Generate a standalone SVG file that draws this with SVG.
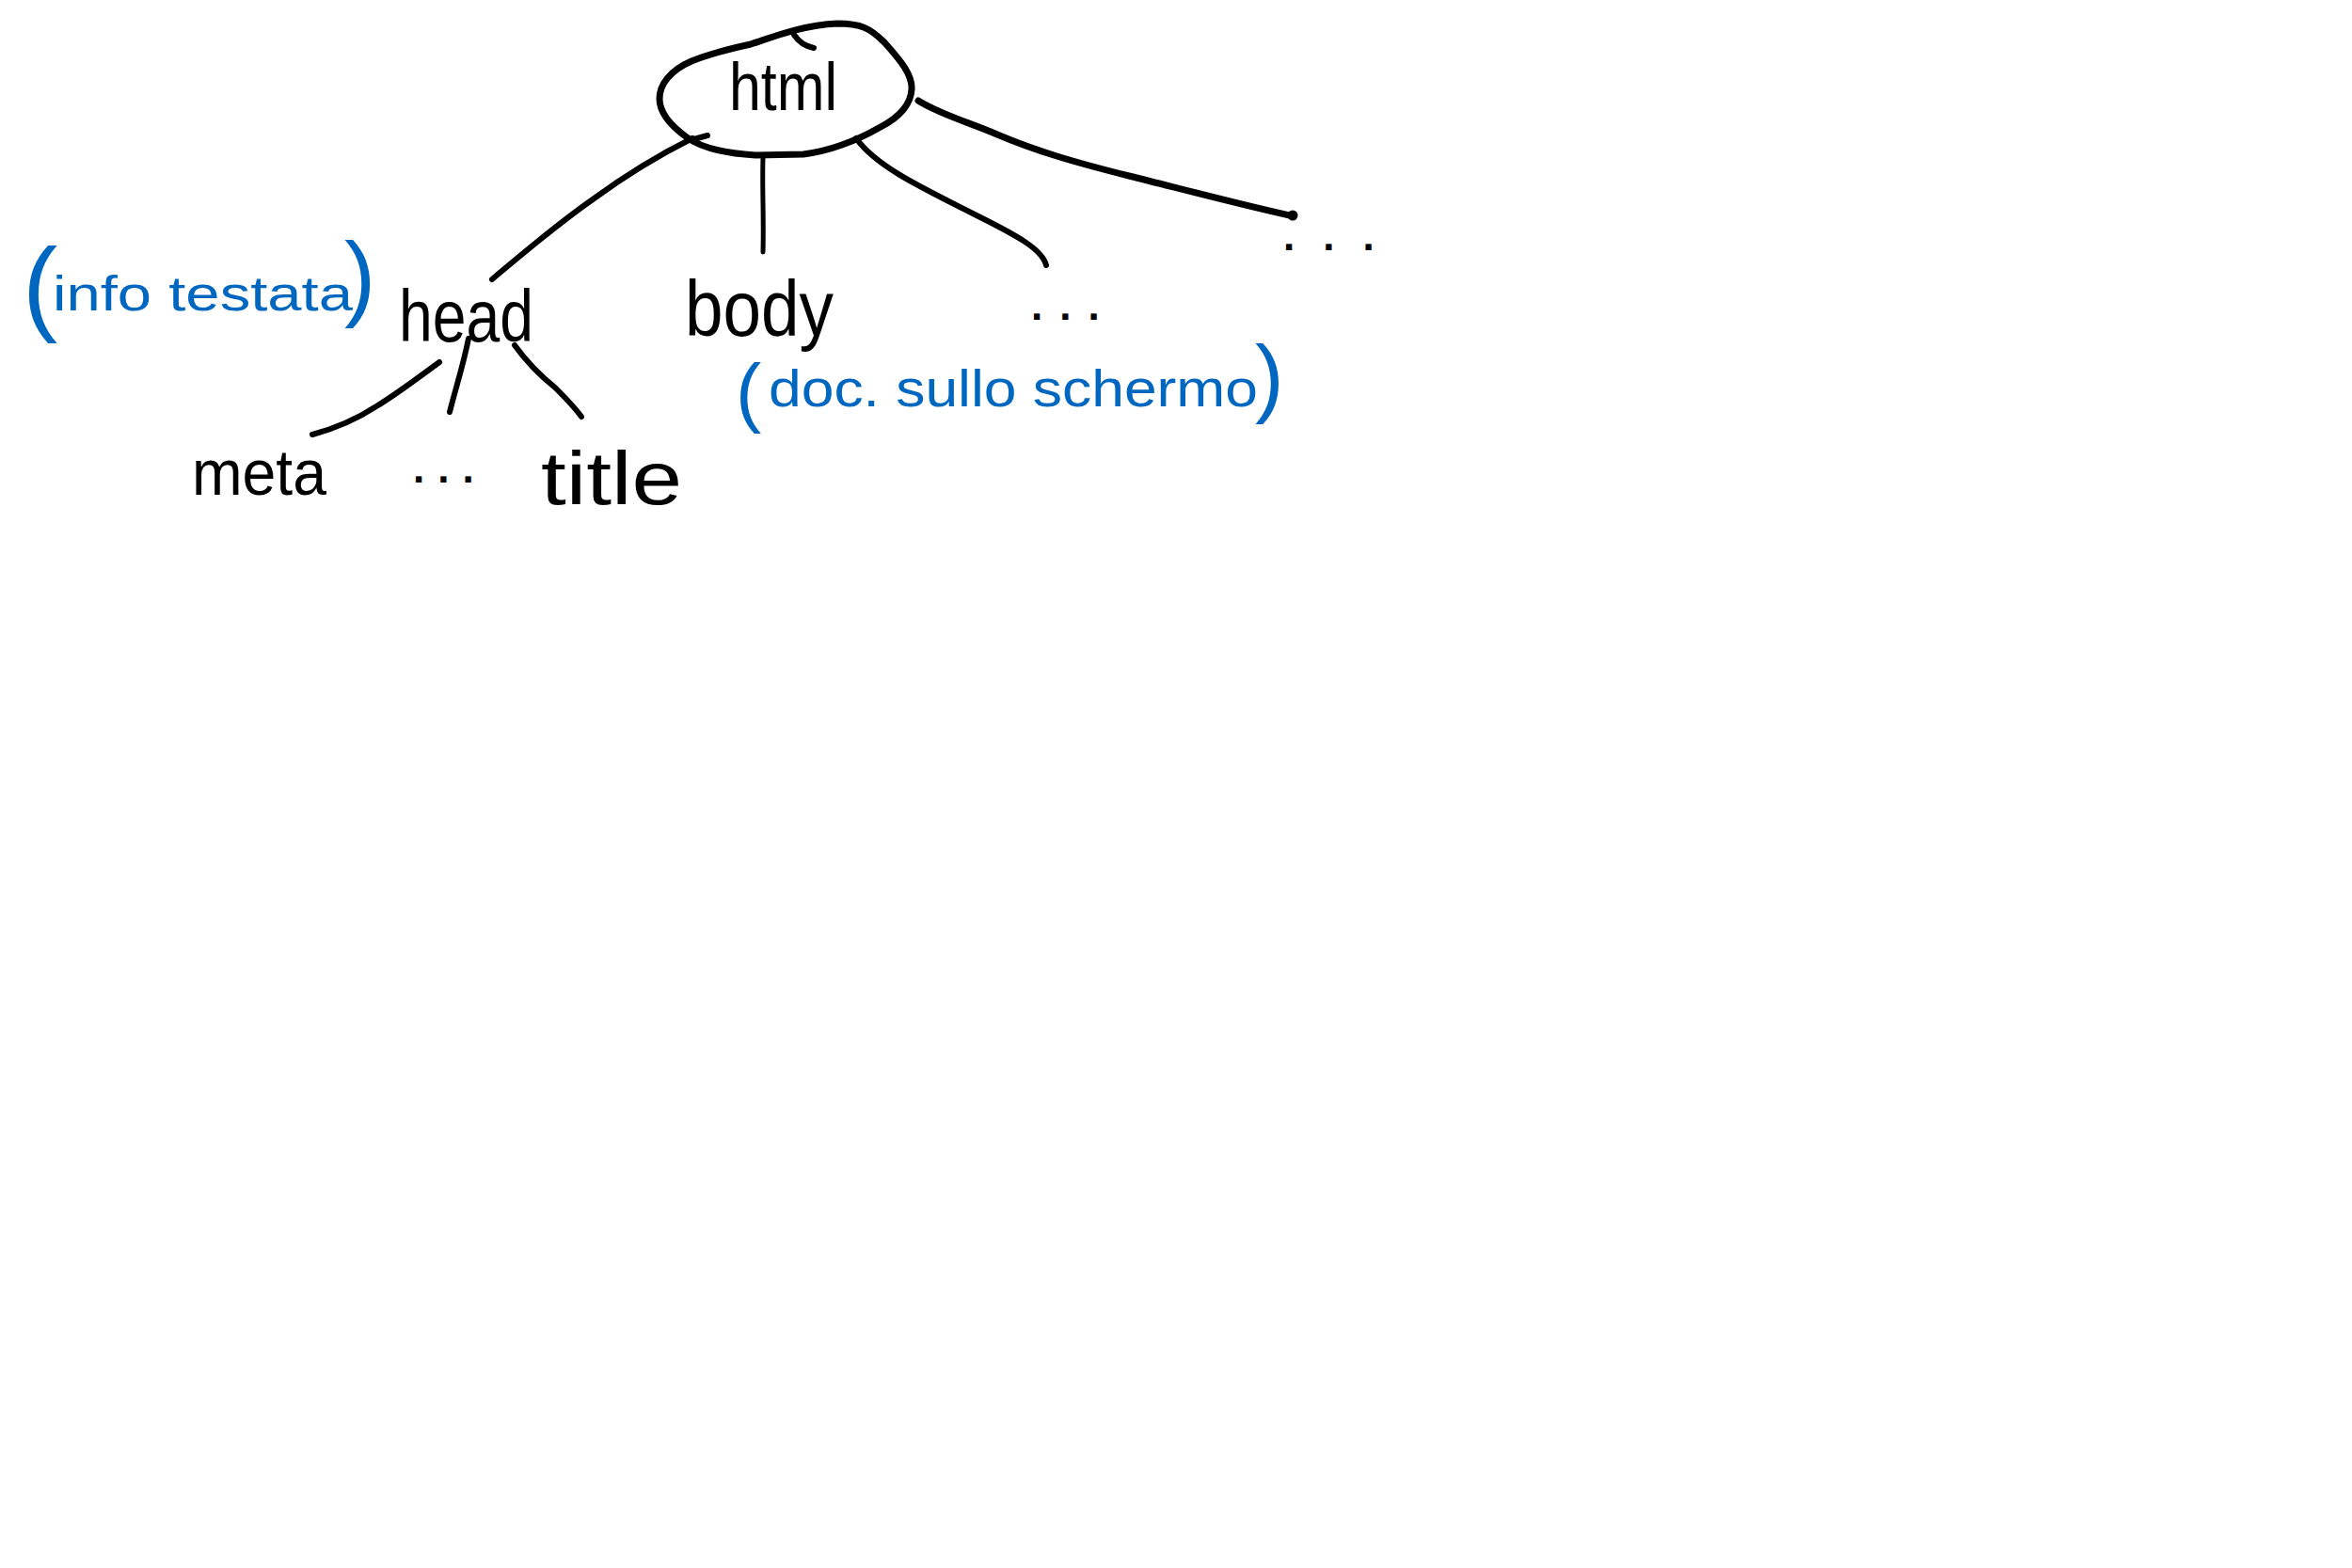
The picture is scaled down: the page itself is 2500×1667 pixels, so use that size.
<svg xmlns="http://www.w3.org/2000/svg" width="2500" height="1667" viewBox="0 0 2500 1667">
<style>
.ink{fill:none;stroke:#000;stroke-width:6;stroke-linecap:round;stroke-linejoin:round}
.lbl{font-family:"Liberation Sans","DejaVu Sans",sans-serif;fill:#000}
.note{font-family:"Liberation Sans","DejaVu Sans",sans-serif;fill:#0067c0}
.dots{font-family:"Liberation Sans","DejaVu Sans",sans-serif;fill:#000;font-weight:bold}
</style>
<rect width="2500" height="1667" fill="#fff"/>
<g id="connectors">
<path class="ink" d="M 734 149 L 752 144"/>
<path class="ink" d="M 736 147 C 700 165, 660 190, 630 212 C 590 240, 555 270, 523 297"/>
<path class="ink" style="stroke-width:5" d="M 811 168 C 810 200, 812 230, 811 268"/>
<path class="ink" d="M 910 147 C 930 175, 970 195, 1040 230 C 1080 250, 1108 265, 1112 282"/>
<path class="ink" style="stroke-width:7" d="M 976 107 C 1000 122, 1030 130, 1060 143 C 1100 160, 1140 172, 1200 187 C 1260 202, 1320 218, 1375 230"/>
<circle cx="1374" cy="229" r="5.5" fill="#000"/>
<path class="ink" d="M 467 385 C 440 405, 420 420, 400 432 C 380 445, 358 455, 332 462"/>
<path class="ink" d="M 498 360 C 492 390, 485 410, 478 438"/>
<path class="ink" d="M 547 367 C 560 385, 575 400, 590 412 C 600 422, 610 432, 618 443"/>
</g>
<g id="node-html">
<path class="ink" style="stroke-width:7" d="M 798 47 C 820 40, 850 27, 890 25 C 915 25, 925 30, 940 45 C 958 65, 970 80, 969 95 C 968 112, 955 125, 936 135 C 915 147, 885 160, 854 164 L 803 165 C 770 163, 745 157, 730 146 C 712 133, 701 120, 701 105 C 701 90, 712 75, 735 65 C 755 57, 775 52, 798 47 Z"/>
<path class="ink" d="M 844 37 C 848 43, 855 49, 865 51"/>
<text class="lbl" x="775" y="117" font-size="72" textLength="115" lengthAdjust="spacingAndGlyphs">html</text>
</g>
<g id="node-head">
<text class="lbl" x="424" y="363" font-size="78" textLength="143" lengthAdjust="spacingAndGlyphs">head</text>
</g>
<g id="note-head">
<text class="note"><tspan x="24" y="342" font-size="112">(</tspan><tspan x="56" y="330" font-size="52" textLength="319" lengthAdjust="spacingAndGlyphs">info testata</tspan><tspan x="366" y="328" font-size="100">)</tspan></text>
</g>
<g id="node-body">
<text class="lbl" x="728" y="357" font-size="84" textLength="158" lengthAdjust="spacingAndGlyphs">body</text>
</g>
<g id="note-body">
<text class="note"><tspan x="782" y="444" font-size="82">(</tspan><tspan x="817" y="432" font-size="56" textLength="520" lengthAdjust="spacingAndGlyphs">doc. sullo schermo</tspan><tspan x="1334" y="432" font-size="92">)</tspan></text>
</g>
<g id="node-dots-mid">
<text class="dots" x="1096" y="340" font-size="44" letter-spacing="18">...</text>
</g>
<g id="node-dots-right">
<text class="dots" x="1364" y="266" font-size="44" letter-spacing="30">...</text>
</g>
<g id="node-meta">
<text class="lbl" x="204" y="526" font-size="68" textLength="143" lengthAdjust="spacingAndGlyphs">meta</text>
</g>
<g id="node-dots-head">
<text class="dots" x="439" y="513" font-size="44" letter-spacing="14">...</text>
</g>
<g id="node-title">
<text class="lbl" x="575" y="536" font-size="80" textLength="150" lengthAdjust="spacingAndGlyphs">title</text>
</g>
</svg>
